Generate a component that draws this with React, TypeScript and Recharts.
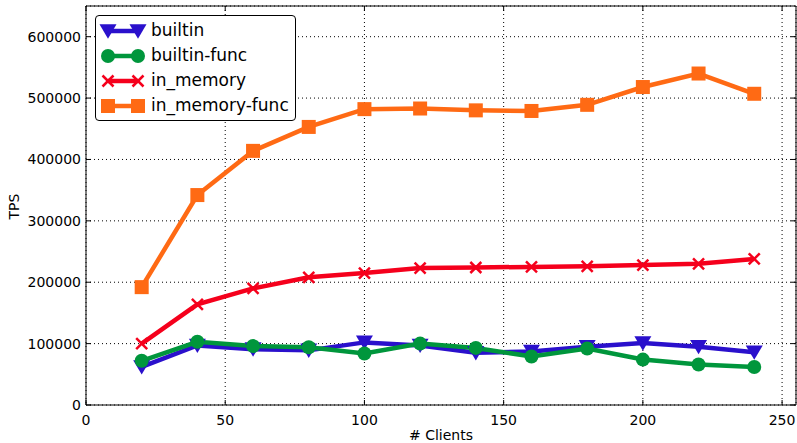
import React from "react";
import { LineChart, Line, XAxis, YAxis, CartesianGrid, ReferenceArea } from "recharts";

const clients = [20, 40, 60, 80, 100, 120, 140, 160, 180, 200, 220, 240];
const builtin = [62000, 97000, 91000, 89000, 102000, 97000, 85000, 87000, 95000, 101000, 95000, 86000];
const builtinFunc = [72000, 103000, 96000, 94000, 84000, 100000, 93000, 79000, 92000, 74000, 66000, 62000];
const inMemory = [100000, 164000, 190000, 208000, 215000, 223000, 224000, 225000, 226000, 228000, 230000, 238000];
const inMemoryFunc = [192000, 342000, 414000, 453000, 482000, 483000, 480000, 479000, 489000, 518000, 540000, 507000];
const xTicks = [0, 50, 100, 150, 200, 250];
const yTicks = [0, 100000, 200000, 300000, 400000, 500000, 600000];

const data = clients.map((c, i) => ({
  clients: c,
  builtin: builtin[i],
  builtinFunc: builtinFunc[i],
  inMemory: inMemory[i],
  inMemoryFunc: inMemoryFunc[i],
}));

const BLUE = "#2a10cc";
const GREEN = "#00963c";
const RED = "#f5001c";
const ORANGE = "#ff6a14";
const FONT = "'DejaVu Sans', sans-serif";

const W = 797;
const H = 443;
const LEFT = 86;
const TOP = 6;
const RIGHT = 1;
const BOTTOM = 38;

const Marker = ({ kind, color, cx, cy }: any) => {
  if (cx == null || cy == null) return null;
  if (kind === "tri") {
    const s = 8.5;
    return <polygon points={`${cx - s},${cy - s * 0.8} ${cx + s},${cy - s * 0.8} ${cx},${cy + s * 0.9}`} fill={color} />;
  }
  if (kind === "circle") return <circle cx={cx} cy={cy} r={7} fill={color} />;
  if (kind === "x") {
    const s = 5.5;
    return (
      <g stroke={color} strokeWidth={2.5}>
        <line x1={cx - s} y1={cy - s} x2={cx + s} y2={cy + s} />
        <line x1={cx - s} y1={cy + s} x2={cx + s} y2={cy - s} />
      </g>
    );
  }
  return <rect x={cx - 7} y={cy - 7} width={14} height={14} fill={color} />;
};

const series = [
  { key: "builtin", name: "builtin", color: BLUE, kind: "tri" },
  { key: "builtinFunc", name: "builtin-func", color: GREEN, kind: "circle" },
  { key: "inMemory", name: "in_memory", color: RED, kind: "x" },
  { key: "inMemoryFunc", name: "in_memory-func", color: ORANGE, kind: "sq" },
];

const YTick = (props: any) => {
  const { x, y, payload } = props;
  return (
    <g>
      <line x1={LEFT} x2={LEFT + 5} y1={y} y2={y} stroke="#000" />
      <line x1={W - RIGHT - 5} x2={W - RIGHT} y1={y} y2={y} stroke="#000" />
      <text x={x} y={y} dy={5} textAnchor="end" fontSize={14} fontFamily={FONT} fill="#000">
        {payload.value}
      </text>
    </g>
  );
};

const XTick = (props: any) => {
  const { x, y, payload } = props;
  const bottom = H - BOTTOM;
  return (
    <g>
      <line x1={x} x2={x} y1={bottom} y2={bottom - 5} stroke="#000" />
      <line x1={x} x2={x} y1={TOP} y2={TOP + 5} stroke="#000" />
      <text x={x} y={y} dy={12} textAnchor="middle" fontSize={14} fontFamily={FONT} fill="#000">
        {payload.value}
      </text>
    </g>
  );
};

const LegendBox = () => (
  <div
    style={{
      position: "absolute",
      left: 95,
      top: 15,
      border: "1px solid #000",
      borderRadius: 4,
      background: "#fff",
      padding: "2px 6px 2px 2px",
      fontFamily: FONT,
      fontSize: 17,
      lineHeight: "25px",
    }}
  >
    {series.map((s) => (
      <div key={s.key} style={{ display: "flex", alignItems: "center", height: 25 }}>
        <svg width={50} height={20} style={{ marginRight: 3 }}>
          <line x1={10} x2={40} y1={10} y2={10} stroke={s.color} strokeWidth={4.5} />
          <Marker kind={s.kind} color={s.color} cx={10} cy={10} />
          <Marker kind={s.kind} color={s.color} cx={40} cy={10} />
        </svg>
        <span>{s.name}</span>
      </div>
    ))}
  </div>
);

export default function App() {
  return (
    <div style={{ position: "absolute", left: 0, top: 0, width: W, height: H, background: "#fff" }}>
      <LineChart width={W} height={H} data={data} margin={{ top: TOP, right: RIGHT, left: 0, bottom: 0 }}>
        <CartesianGrid stroke="#000" strokeDasharray="1 3" strokeWidth={1} />
        <XAxis
          dataKey="clients"
          type="number"
          domain={[0, 255]}
          ticks={xTicks}
          height={BOTTOM}
          tickLine={false}
          axisLine={false}
          tick={<XTick />}
          interval={0}
          label={{ value: "# Clients", position: "insideBottom", offset: 0, fontSize: 14, fontFamily: FONT, fill: "#000", dy: -3 }}
        />
        <YAxis
          type="number"
          domain={[0, 650000]}
          ticks={yTicks}
          width={LEFT}
          tickLine={false}
          axisLine={false}
          tickSize={0}
          tickMargin={5}
          tick={<YTick />}
          interval={0}
          label={{ value: "TPS", angle: -90, position: "insideLeft", offset: 14, fontSize: 14, fontFamily: FONT, fill: "#000", dy: 14 }}
        />
        <ReferenceArea x1={0} x2={255} y1={0} y2={650000} fill="none" stroke="#000" strokeWidth={1} ifOverflow="visible" />
        {series.map((s) => (
          <Line
            key={s.key}
            dataKey={s.key}
            name={s.name}
            stroke={s.color}
            strokeWidth={4.5}
            isAnimationActive={false}
            dot={(p: any) => <Marker key={`${s.key}-${p.index}`} kind={s.kind} color={s.color} cx={p.cx} cy={p.cy} />}
            activeDot={false}
          />
        ))}
      </LineChart>
      <LegendBox />
    </div>
  );
}
